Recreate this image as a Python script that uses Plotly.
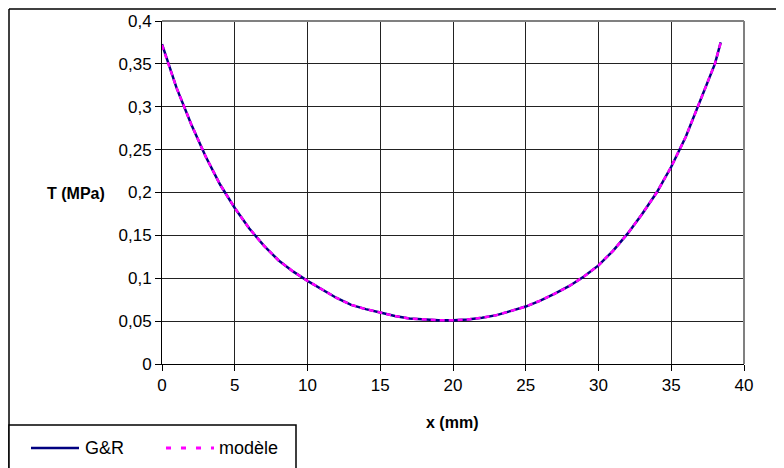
import plotly.graph_objects as go

# Data
x_mm = [0, 1, 2, 3, 4, 5, 6, 7, 8, 9, 10, 11, 12, 13, 14, 15, 16, 17, 18, 19,
        20, 21, 22, 23, 24, 25, 26, 27, 28, 29, 30, 31, 32, 33, 34, 35, 36, 37, 38, 38.4]
t_gr = [0.373, 0.322, 0.280, 0.242, 0.209, 0.182, 0.158, 0.138, 0.121, 0.108,
        0.097, 0.087, 0.077, 0.069, 0.064, 0.060, 0.056, 0.053, 0.052, 0.051,
        0.051, 0.052, 0.054, 0.057, 0.062, 0.067, 0.074, 0.082, 0.091, 0.102,
        0.115, 0.132, 0.152, 0.175, 0.200, 0.230, 0.265, 0.308, 0.350, 0.375]
t_model = [0.372, 0.322, 0.280, 0.242, 0.209, 0.182, 0.158, 0.138, 0.121, 0.108,
           0.097, 0.087, 0.077, 0.069, 0.064, 0.060, 0.056, 0.053, 0.052, 0.051,
           0.051, 0.052, 0.054, 0.057, 0.062, 0.067, 0.074, 0.082, 0.091, 0.102,
           0.115, 0.132, 0.152, 0.175, 0.200, 0.230, 0.265, 0.308, 0.350, 0.375]
series_names = ["G&R", "modèle"]

x_tickvals = [0, 5, 10, 15, 20, 25, 30, 35, 40]
x_ticktext = ["0", "5", "10", "15", "20", "25", "30", "35", "40"]
y_tickvals = [0, 0.05, 0.1, 0.15, 0.2, 0.25, 0.3, 0.35, 0.4]
y_ticktext = ["0", "0,05", "0,1", "0,15", "0,2", "0,25", "0,3", "0,35", "0,4"]

# page body has an 8px margin: figure pixel = screen pixel - 8
OFF = 8
W, H = 784 - OFF, 468 - OFF
ML = 162 - OFF
MT = 21 - OFF
MR = W - (744 - OFF)
MB = H - (364 - OFF)
PW = W - ML - MR
PH = H - MT - MB

GR_COLOR = "#000080"
MOD_COLOR = "#FF00FF"


def px_x(p):
    """screen x pixel -> paper coordinate"""
    return (p - OFF - ML) / PW


def px_y(p):
    """screen y pixel -> paper coordinate"""
    return (H - MB - (p - OFF)) / PH


fig = go.Figure()
fig.add_trace(go.Scatter(x=x_mm, y=t_gr, mode="lines", name=series_names[0],
                         line=dict(color=GR_COLOR, width=2.5)))
fig.add_trace(go.Scatter(x=x_mm, y=t_model, mode="lines", name=series_names[1],
                         line=dict(color=MOD_COLOR, width=2.5, dash="5px,4px")))

font_family = "Liberation Sans, Arial, sans-serif"

fig.update_layout(
    width=W, height=H,
    margin=dict(l=ML, r=MR, t=MT, b=MB, autoexpand=False),
    paper_bgcolor="white", plot_bgcolor="white",
    font=dict(family=font_family, size=17, color="black"),
    showlegend=False,
    xaxis=dict(range=[0, 40], tickvals=x_tickvals, ticktext=x_ticktext,
               showgrid=True, gridcolor="#222222", gridwidth=1,
               showline=True, linecolor="black", linewidth=1,
               ticks="outside", ticklen=6, tickcolor="black", zeroline=False,
               tickfont=dict(size=17), automargin=False),
    yaxis=dict(range=[0, 0.4], tickvals=y_tickvals, ticktext=y_ticktext,
               showgrid=True, gridcolor="#222222", gridwidth=1,
               showline=True, linecolor="black", linewidth=1,
               ticks="outside", ticklen=6, tickcolor="black", zeroline=False,
               tickfont=dict(size=17), automargin=False),
    shapes=[
        # outer chart-area border (left and top edges; others run off-page)
        dict(type="line", xref="paper", yref="paper",
             x0=px_x(9), x1=px_x(9), y0=px_y(480), y1=px_y(9),
             line=dict(color="black", width=1.5), layer="below"),
        dict(type="line", xref="paper", yref="paper",
             x0=px_x(9), x1=px_x(784), y0=px_y(9), y1=px_y(9),
             line=dict(color="black", width=1.5), layer="below"),
        # right/top plot-area border (grey)
        dict(type="line", xref="paper", yref="paper", x0=1, x1=1, y0=0, y1=1,
             line=dict(color="#808080", width=2)),
        dict(type="line", xref="paper", yref="paper", x0=0, x1=1, y0=1, y1=1,
             line=dict(color="#808080", width=2)),
        # legend box
        dict(type="rect", xref="paper", yref="paper",
             x0=px_x(9), x1=px_x(296), y0=px_y(480), y1=px_y(425),
             line=dict(color="black", width=1.5), fillcolor="white", layer="above"),
        # legend keys
        dict(type="line", xref="paper", yref="paper",
             x0=px_x(31), x1=px_x(79), y0=px_y(448), y1=px_y(448),
             line=dict(color=GR_COLOR, width=2.5)),
        dict(type="line", xref="paper", yref="paper",
             x0=px_x(166), x1=px_x(214), y0=px_y(448), y1=px_y(448),
             line=dict(color=MOD_COLOR, width=3, dash="5px,10px")),
    ],
    annotations=[
        dict(text="<b>T (MPa)</b>", xref="paper", yref="paper", x=px_x(76), y=px_y(193),
             xanchor="center", yanchor="middle", showarrow=False, font=dict(size=16)),
        dict(text="<b>x (mm)</b>", xref="paper", yref="paper", x=px_x(452), y=px_y(422),
             xanchor="center", yanchor="middle", showarrow=False, font=dict(size=16)),
        dict(text=series_names[0], xref="paper", yref="paper", x=px_x(83), y=px_y(448),
             xanchor="left", yanchor="middle", showarrow=False, font=dict(size=18)),
        dict(text=series_names[1], xref="paper", yref="paper", x=px_x(217), y=px_y(448),
             xanchor="left", yanchor="middle", showarrow=False, font=dict(size=18)),
    ],
)

fig.write_html("out.html")
